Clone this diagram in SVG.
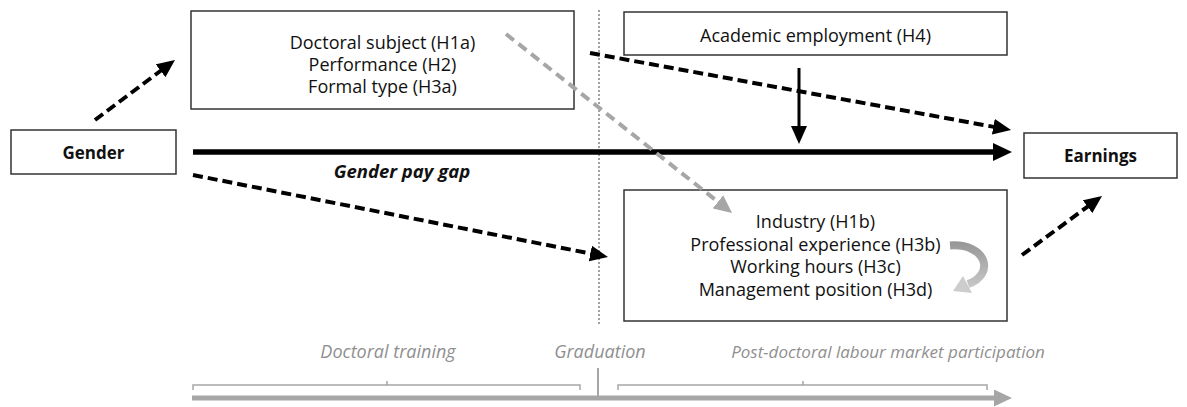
<svg xmlns="http://www.w3.org/2000/svg" width="1187" height="407" viewBox="0 0 1187 407">
  <style>
    .box { fill: #ffffff; stroke: #333333; stroke-width: 1.5; }
    .lbl { font-family: "Open Sans", "Noto Sans", "DejaVu Sans", sans-serif; font-size: 18px; fill: #111111; text-anchor: middle; }
    .bold { font-weight: bold; font-size: 17px; }
    .gap { font-style: italic; font-size: 18.5px; }
    .phase { font-family: "Open Sans", "Noto Sans", "DejaVu Sans", sans-serif; font-size: 18px; font-style: italic; fill: #8f8f8f; text-anchor: middle; }
    .phase-long { font-size: 17px; }
    .dash { fill: none; stroke: #000000; stroke-width: 4; stroke-dasharray: 10 5; }
    .dash-grey { fill: none; stroke: #a6a6a6; stroke-width: 4; stroke-dasharray: 10 6; }
    .solid { fill: none; stroke: #000000; }
    .time { fill: none; stroke: #a6a6a6; }
  </style>
  <defs>
    <marker id="head" markerUnits="userSpaceOnUse" markerWidth="18" markerHeight="16" refX="8" refY="8" orient="auto">
      <path d="M0,0 L18,8 L0,16 z" fill="#000000"/>
    </marker>
    <marker id="head-grey" markerUnits="userSpaceOnUse" markerWidth="18" markerHeight="17" refX="8" refY="8.5" orient="auto">
      <path d="M0,0 L18,8.5 L0,17 z" fill="#a6a6a6"/>
    </marker>
    <marker id="head-big" markerUnits="userSpaceOnUse" markerWidth="19" markerHeight="18" refX="9" refY="9" orient="auto">
      <path d="M0,0 L19,9 L0,18 z" fill="#000000"/>
    </marker>
    <marker id="head-time" markerUnits="userSpaceOnUse" markerWidth="18" markerHeight="17" refX="8" refY="8.5" orient="auto">
      <path d="M0,0 L18,8.5 L0,17 z" fill="#a6a6a6"/>
    </marker>
    <linearGradient id="loopGrad" gradientUnits="userSpaceOnUse" x1="0" y1="241" x2="0" y2="295">
      <stop offset="0" stop-color="#959595"/>
      <stop offset="1" stop-color="#d0d0d0"/>
    </linearGradient>
  </defs>

  <!-- graduation divider -->
  <line x1="599" y1="10" x2="599" y2="325" stroke="#a0a0a0" stroke-width="2" stroke-dasharray="2 2"/>

  <!-- nodes -->
  <g id="gender">
    <rect class="box" x="11" y="130" width="165" height="44"/>
    <text class="lbl bold" x="93.5" y="158.5">Gender</text>
  </g>
  <g id="doctoral-factors">
    <rect class="box" x="191" y="11" width="383" height="98"/>
    <text class="lbl" x="382.5" y="49">Doctoral subject (H1a)</text>
    <text class="lbl" x="382.5" y="71">Performance (H2)</text>
    <text class="lbl" x="382.5" y="93">Formal type (H3a)</text>
  </g>
  <g id="academic-employment">
    <rect class="box" x="624" y="12" width="383" height="43"/>
    <text class="lbl" x="815.5" y="41.5">Academic employment (H4)</text>
  </g>
  <g id="labour-market-factors">
    <rect class="box" x="624" y="190" width="383" height="131"/>
    <text class="lbl" x="815.5" y="228">Industry (H1b)</text>
    <text class="lbl" x="815.5" y="250.5">Professional experience (H3b)</text>
    <text class="lbl" x="815.5" y="273">Working hours (H3c)</text>
    <text class="lbl" x="815.5" y="295.5">Management position (H3d)</text>
    <!-- curved arrow between the listed factors -->
    <path d="M950,245.5 C986,243 996,274 968,284" fill="none" stroke="url(#loopGrad)" stroke-width="8"/>
    <polygon points="953,291 963,276 972,293" fill="#cdcdcd"/>
  </g>
  <g id="earnings">
    <rect class="box" x="1024" y="133" width="153" height="45"/>
    <text class="lbl bold" x="1100.5" y="161.5">Earnings</text>
  </g>

  <!-- connectors -->
  <g id="connectors">
    <line class="solid" x1="193" y1="152" x2="1002" y2="152" stroke-width="5.5" marker-end="url(#head-big)"/>
    <line class="dash" x1="95" y1="120" x2="167" y2="66" marker-end="url(#head)"/>
    <line class="dash" x1="590" y1="53" x2="1001.2" y2="128.2" marker-end="url(#head)"/>
    <line class="dash" x1="193" y1="175" x2="598.2" y2="255.1" marker-end="url(#head)"/>
    <line class="dash" x1="1022" y1="255" x2="1094" y2="201.9" marker-end="url(#head)"/>
    <line class="dash-grey" x1="506" y1="34" x2="724.2" y2="206.8" marker-end="url(#head-grey)"/>
    <line class="solid" x1="799" y1="68" x2="799" y2="134" stroke-width="3" marker-end="url(#head)"/>
  </g>
  <text class="lbl bold gap" x="402" y="178">Gender pay gap</text>

  <!-- timeline -->
  <g id="timeline">
    <text class="phase" x="388" y="358">Doctoral training</text>
    <text class="phase" x="600" y="358">Graduation</text>
    <text class="phase phase-long" x="888" y="358">Post-doctoral labour market participation</text>
    <path class="time" d="M193,390 V385 H580 V390 M387,385 V381" stroke-width="1.5"/>
    <path class="time" d="M618,390 V385 H987 V390 M803,385 V381" stroke-width="1.5"/>
    <line class="time" x1="598" y1="368" x2="598" y2="396" stroke-width="2"/>
    <line class="time" x1="192" y1="398" x2="1002" y2="398" stroke-width="5" marker-end="url(#head-time)"/>
  </g>
</svg>
